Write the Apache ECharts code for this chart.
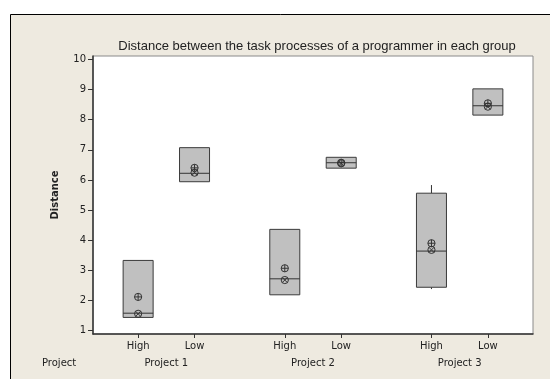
<!DOCTYPE html>
<html>
<head>
<meta charset="utf-8">
<script src="https://cdn.jsdelivr.net/npm/echarts@6/dist/echarts.min.js"></script>
<style>
  html, body { margin: 0; padding: 0; background: #fff; }
  #chart { width: 550px; height: 379px; }
</style>
</head>
<body>
<div id="chart"></div>
<script>
// Groups along the x axis and the two levels inside each group
const projects = ['Project 1', 'Project 2', 'Project 3'];
const levels = ['High', 'Low'];

// Box statistics, one entry per (project, level) in reading order
const whiskerLow  = [1.44, 5.94, 2.19, 6.39, 2.38, 8.15];
const q1          = [1.44, 5.94, 2.19, 6.39, 2.44, 8.15];
const median      = [1.58, 6.22, 2.72, 6.57, 3.64, 8.46];
const q3          = [3.33, 7.07, 4.36, 6.75, 5.56, 9.02];
const whiskerHigh = [3.33, 7.07, 4.36, 6.75, 5.83, 9.02];
const meanValues  = [2.12, 6.40, 3.07, 6.57, 3.90, 8.54];
const medianMarks = [1.56, 6.24, 2.68, 6.55, 3.68, 8.43];

// Y tick labels
const yTicks = [1, 2, 3, 4, 5, 6, 7, 8, 9, 10];

// Horizontal placement: levels one unit apart, groups 2.6 units apart
const GROUP_STEP = 2.6;
const xOf = (g, l) => g * GROUP_STEP + l;

const boxData = [];
const levelTicks = [];
const levelNames = {};
projects.forEach((p, g) => {
  levels.forEach((lv, l) => {
    const i = g * levels.length + l;
    const x = xOf(g, l);
    levelTicks.push(x);
    levelNames[x.toFixed(2)] = lv;
    boxData.push([x, whiskerLow[i], q1[i], median[i], q3[i], whiskerHigh[i], meanValues[i], medianMarks[i]]);
  });
});
const projectTicks = projects.map((p, g) => (xOf(g, 0) + xOf(g, levels.length - 1)) / 2);
const projectNames = {};
projectTicks.forEach((x, g) => { projectNames[x.toFixed(2)] = projects[g]; });

const FONT = 'DejaVu Sans';
const INK = '#222';
const BOX_W = 30;

function renderBox(params, api) {
  const x = api.value(0);
  const pLow = api.coord([x, api.value(1)]);
  const pQ1 = api.coord([x, api.value(2)]);
  const pMed = api.coord([x, api.value(3)]);
  const pQ3 = api.coord([x, api.value(4)]);
  const pHigh = api.coord([x, api.value(5)]);
  const pMean = api.coord([x, api.value(6)]);
  const pMark = api.coord([x, api.value(7)]);
  const cx = pQ1[0];
  const half = BOX_W / 2;
  const line = { stroke: '#333', lineWidth: 1, fill: null };
  const r = 3.6;
  const children = [
    { type: 'line', shape: { x1: cx, y1: pQ3[1], x2: cx, y2: pHigh[1] }, style: line },
    { type: 'line', shape: { x1: cx, y1: pQ1[1], x2: cx, y2: pLow[1] }, style: line },
    { type: 'rect', shape: { x: cx - half, y: pQ3[1], width: BOX_W, height: pQ1[1] - pQ3[1] },
      style: { fill: '#c0c0c0', stroke: '#3a3a3a', lineWidth: 1 } },
    { type: 'line', shape: { x1: cx - half, y1: pMed[1], x2: cx + half, y2: pMed[1] }, style: line },
    // circled plus at the mean
    { type: 'circle', shape: { cx: cx, cy: pMean[1], r: r }, style: line },
    { type: 'line', shape: { x1: cx - r, y1: pMean[1], x2: cx + r, y2: pMean[1] }, style: line },
    { type: 'line', shape: { x1: cx, y1: pMean[1] - r, x2: cx, y2: pMean[1] + r }, style: line },
    // circled cross near the median
    { type: 'circle', shape: { cx: cx, cy: pMark[1], r: r }, style: line },
    { type: 'line', shape: { x1: cx - r * 0.7, y1: pMark[1] - r * 0.7, x2: cx + r * 0.7, y2: pMark[1] + r * 0.7 }, style: line },
    { type: 'line', shape: { x1: cx - r * 0.7, y1: pMark[1] + r * 0.7, x2: cx + r * 0.7, y2: pMark[1] - r * 0.7 }, style: line }
  ];
  return { type: 'group', children: children };
}

const chart = echarts.init(document.getElementById('chart'), null, { renderer: 'canvas' });
chart.setOption({
  animation: false,
  backgroundColor: '#ffffff',
  title: {
    text: 'Distance between the task processes of a programmer in each group',
    left: 312,
    top: 35,
    textAlign: 'center',
    textStyle: { fontFamily: 'Liberation Sans', fontSize: 13, fontWeight: 'normal', color: INK }
  },
  graphic: [
    {
      type: 'rect', z: -100, silent: true,
      shape: { x: 10.5, y: 14.5, width: 600, height: 400 },
      style: { fill: '#eeeae0', stroke: '#000', lineWidth: 1 }
    },
    {
      type: 'text', left: 42, top: 358,
      style: { text: 'Project', font: '10px "DejaVu Sans"', fill: INK }
    }
  ],
  grid: {
    left: 93, right: 17, top: 56, bottom: 45,
    show: true, backgroundColor: '#ffffff', borderColor: '#8a8a8a', borderWidth: 1
  },
  xAxis: [
    {
      type: 'value', min: -0.8, max: 7.0,
      axisLine: { show: true, onZero: false, lineStyle: { color: '#333', width: 1.5 } },
      axisTick: { show: true, length: 4, customValues: levelTicks, lineStyle: { color: '#333' } },
      axisLabel: {
        customValues: levelTicks, margin: 7,
        formatter: v => levelNames[Number(v).toFixed(2)] || '',
        fontFamily: FONT, fontSize: 10, color: INK
      },
      splitLine: { show: false }
    },
    {
      type: 'value', min: -0.8, max: 7.0, position: 'bottom', offset: 18,
      axisLine: { show: false, onZero: false }, axisTick: { show: false },
      axisLabel: {
        customValues: projectTicks, margin: 6,
        formatter: v => projectNames[Number(v).toFixed(2)] || '',
        fontFamily: FONT, fontSize: 10, color: INK
      },
      splitLine: { show: false }
    }
  ],
  yAxis: {
    type: 'value', min: 0.89, max: 10.11,
    name: 'Distance', nameLocation: 'middle', nameGap: 33,
    nameTextStyle: { fontFamily: FONT, fontSize: 10, fontWeight: 'bold', color: INK },
    axisLine: { show: true, onZero: false, lineStyle: { color: '#333', width: 1.5 } },
    axisTick: { show: true, length: 5, customValues: yTicks, lineStyle: { color: '#333' } },
    axisLabel: { customValues: yTicks, margin: 7, fontFamily: FONT, fontSize: 10, color: INK },
    splitLine: { show: false }
  },
  series: [{
    type: 'custom',
    renderItem: renderBox,
    encode: { x: 0, y: [1, 2, 3, 4, 5, 6, 7] },
    data: boxData,
    clip: false
  }]
});
</script>
</body>
</html>
